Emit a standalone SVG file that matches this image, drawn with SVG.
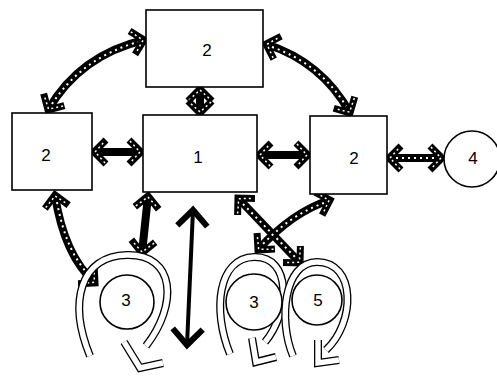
<svg xmlns="http://www.w3.org/2000/svg" width="497" height="378" viewBox="0 0 497 378">
<style>
.box{fill:#fff;stroke:#000;stroke-width:1.6}
.circ{fill:#fff;stroke:#000;stroke-width:1.6}
.lbl{font-family:"Liberation Sans",sans-serif;font-size:17px;text-anchor:middle;dominant-baseline:central;fill:#000}
.band{fill:none;stroke:#000;stroke-width:8;stroke-linecap:butt}
.hatch{fill:none;stroke:#fff;stroke-width:2;stroke-dasharray:2 4}
.rod{fill:none;stroke:#000;stroke-width:4}
.loopO{fill:none;stroke:#000;stroke-width:8;stroke-linecap:butt;stroke-linejoin:miter}
.loopI{fill:none;stroke:#fff;stroke-width:5.4;stroke-linecap:butt;stroke-linejoin:miter}
</style>
<defs>
<marker id="hd" viewBox="-18 -18 36 36" markerUnits="userSpaceOnUse" markerWidth="36" markerHeight="36" refX="0" refY="0" orient="auto-start-reverse">
<path d="M-12,-12 L0,0 L-12,12" fill="none" stroke="#000" stroke-width="7"/>
<path d="M-11,-11 L-1,0 L-11,11" fill="none" stroke="#fff" stroke-width="1.5" stroke-dasharray="2 3"/>
</marker>
<marker id="hd2" viewBox="-20 -20 40 40" markerUnits="userSpaceOnUse" markerWidth="40" markerHeight="40" refX="0" refY="0" orient="auto-start-reverse">
<path d="M-16,-15 L0,0 L-16,15" fill="none" stroke="#000" stroke-width="6"/>
</marker>
</defs>
<g id="connectors">
<path class="band" marker-start="url(#hd)" marker-end="url(#hd)" d="M48,110 Q80,55 144,40"/>
<path class="hatch" d="M52,104 Q82,58 138,42"/>
<path class="band" marker-start="url(#hd)" marker-end="url(#hd)" d="M266,44 Q322,62 350,113"/>
<path class="hatch" d="M272,47 Q320,64 346,106"/>
<path class="band" marker-start="url(#hd)" marker-end="url(#hd)" d="M200,89 L200,113"/>
<path class="band" marker-start="url(#hd)" marker-end="url(#hd)" d="M94,152 L141,152"/>
<path class="band" marker-start="url(#hd)" marker-end="url(#hd)" d="M259,155 L308,155"/>
<path class="band" marker-start="url(#hd)" marker-end="url(#hd)" d="M389,158 L442,158"/>
<path class="hatch" d="M396,158 L436,158"/>
<path class="band" marker-start="url(#hd)" marker-end="url(#hd)" d="M55,195 Q64,255 95,283"/>
<path class="hatch" d="M57,202 Q66,252 90,276"/>
<path class="band" marker-start="url(#hd)" marker-end="url(#hd)" d="M148,196 L142,253"/>
<path class="rod" marker-start="url(#hd2)" marker-end="url(#hd2)" d="M193,210 L187,345"/>
<path class="band" marker-start="url(#hd)" marker-end="url(#hd)" d="M238,198 L300,263"/>
<path class="hatch" d="M243,204 L295,257"/>
<path class="band" marker-start="url(#hd)" marker-end="url(#hd)" d="M330,200 Q292,212 258,250"/>
<path class="hatch" d="M324,203 Q292,214 263,244"/>
</g>
<g id="loops">
<path class="loopO" d="M90,356 C68,302 80,256 127,255 C176,254 178,305 146,346"/>
<path class="loopI" d="M90,356 C68,302 80,256 127,255 C176,254 178,305 146,346"/>
<path class="loopO" d="M124,342 L140,368 L163,363"/>
<path class="loopI" d="M124,342 L140,368 L163,363"/>
<path class="loopO" d="M230,354 C212,310 218,258 254,257 C292,256 290,312 265,342"/>
<path class="loopI" d="M230,354 C212,310 218,258 254,257 C292,256 290,312 265,342"/>
<path class="loopO" d="M252,338 L256,362 L276,357"/>
<path class="loopI" d="M252,338 L256,362 L276,357"/>
<path class="loopO" d="M293,356 C278,320 284,262 317,262 C356,262 356,322 326,350"/>
<path class="loopI" d="M293,356 C278,320 284,262 317,262 C356,262 356,322 326,350"/>
<path class="loopO" d="M318,340 L318,363 L339,360"/>
<path class="loopI" d="M318,340 L318,363 L339,360"/>
</g>
<g id="n-top"><rect class="box" x="146" y="10" width="117" height="77"/><text class="lbl" x="207" y="50">2</text></g>
<g id="n-left"><rect class="box" x="12" y="113" width="80" height="77"/><text class="lbl" x="46" y="155">2</text></g>
<g id="n-center"><rect class="box" x="143" y="115" width="114" height="77"/><text class="lbl" x="198" y="157">1</text></g>
<g id="n-right"><rect class="box" x="310" y="116" width="77" height="78"/><text class="lbl" x="354" y="158">2</text></g>
<g id="n-4"><circle class="circ" cx="472" cy="159" r="28"/><text class="lbl" x="473" y="158">4</text></g>
<g id="n-3a"><circle class="circ" cx="127" cy="302" r="27"/><text class="lbl" x="126" y="300">3</text></g>
<g id="n-3b"><circle class="circ" cx="254" cy="302" r="28"/><text class="lbl" x="254" y="302">3</text></g>
<g id="n-5"><circle class="circ" cx="317" cy="300" r="25"/><text class="lbl" x="318" y="300">5</text></g>
</svg>
